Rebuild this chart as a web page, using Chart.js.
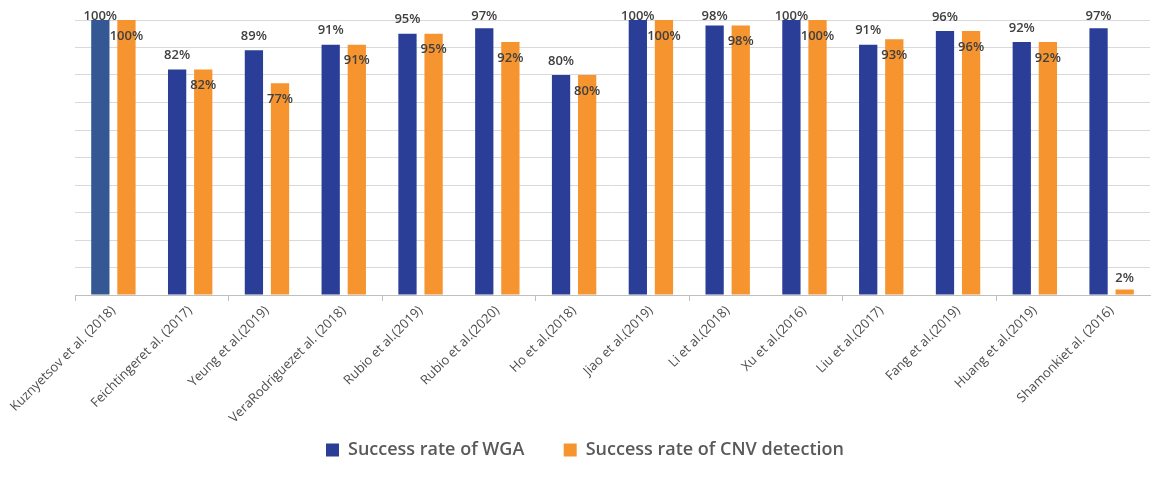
<!DOCTYPE html>
<html lang="en">
<head>
  <meta charset="UTF-8" />
  <title>Success rate of WGA and CNV detection</title>
  <script src="https://cdn.jsdelivr.net/npm/chart.js"></script>
  <style>
    html, body { margin: 0; padding: 0; background: #fff; }
    .wrap { width: 1159px; height: 482px; position: relative; }
  </style>
</head>
<body>
  <div class="wrap"><canvas id="chart"></canvas></div>
  <script>
    const studies = [
      'Kuznyetsov et al. (2018)', 'Feichtingeret al. (2017)', 'Yeung et al.(2019)',
      'VeraRodriguezet al. (2018)', 'Rubio et al.(2019)', 'Rubio et al.(2020)',
      'Ho et al.(2018)', 'Jiao et al.(2019)', 'Li et al.(2018)', 'Xu et al.(2016)',
      'Liu et al.(2017)', 'Fang et al.(2019)', 'Huang et al.(2019)', 'Shamonkiet al. (2016)'
    ];
    const wgaRate = [100, 82, 89, 91, 95, 97, 80, 100, 98, 100, 91, 96, 92, 97];
    const cnvRate = [100, 82, 77, 91, 95, 92, 80, 100, 98, 100, 93, 96, 92, 2];

    const blue = '#2b3e97';
    const firstBlue = '#355895';
    const orange = '#f6942f';

    // value labels: blue above the bar (kept inside the top), orange just inside the top
    const valueLabels = {
      id: 'valueLabels',
      afterDatasetsDraw(chart) {
        const ctx = chart.ctx;
        ctx.save();
        ctx.font = '600 13px "Open Sans"';
        ctx.fillStyle = '#404040';
        ctx.textAlign = 'center';
        ctx.textBaseline = 'middle';
        chart.data.datasets.forEach((ds, di) => {
          chart.getDatasetMeta(di).data.forEach((bar, i) => {
            const h = bar.base - bar.y;
            let y;
            if (di === 0) y = Math.max(bar.y - 14, 16);
            else if (h < 30) y = bar.y - 11;
            else y = bar.y + 16;
            ctx.fillText(ds.data[i] + '%', bar.x, y);
          });
        });
        ctx.restore();
      }
    };

    new Chart(document.getElementById('chart'), {
      type: 'bar',
      data: {
        labels: studies,
        datasets: [
          {
            label: 'Success rate of WGA',
            data: wgaRate,
            backgroundColor: wgaRate.map((v, i) => i === 0 ? firstBlue : blue),
            categoryPercentage: 0.68,
            barPercentage: 0.7
          },
          {
            label: 'Success rate of CNV detection',
            data: cnvRate,
            backgroundColor: orange,
            categoryPercentage: 0.68,
            barPercentage: 0.7
          }
        ]
      },
      options: {
        responsive: true,
        maintainAspectRatio: false,
        animation: false,
        layout: { padding: { top: 20, right: 9, bottom: 13, left: 20 } },
        plugins: {
          tooltip: { enabled: false },
          legend: {
            position: 'bottom',
            labels: {
              boxWidth: 13,
              boxHeight: 13,
              padding: 16,
              color: '#595959',
              font: { family: '"Open Sans"', size: 18, weight: '600' },
              generateLabels(chart) {
                // trailing spaces widen the gap between the two legend items
                return chart.data.datasets.map((ds, i) => ({
                  text: i === 0 ? ds.label + '     ' : ds.label,
                  fillStyle: i === 0 ? blue : orange,
                  strokeStyle: 'transparent',
                  lineWidth: 0,
                  fontColor: '#595959',
                  datasetIndex: i
                }));
              }
            }
          }
        },
        scales: {
          x: {
            grid: {
              display: true,
              drawOnChartArea: false,
              drawTicks: true,
              tickLength: 6,
              offset: true,
              color: ctx => ctx.index % 2 === 0 ? '#bfbfbf' : 'rgba(0,0,0,0)'
            },
            border: { display: true, color: '#bfbfbf' },
            ticks: {
              minRotation: 45,
              maxRotation: 45,
              autoSkip: false,
              color: '#4d4d4d',
              font: { family: '"Open Sans"', size: 13 },
              padding: 2
            },
            afterFit(scale) { scale.height = 130; }
          },
          y: {
            min: 0,
            max: 100,
            ticks: { display: false, stepSize: 10 },
            grid: { color: '#d9d9d9', drawTicks: false },
            border: { display: false },
            afterFit(scale) { scale.width = 55; }
          }
        }
      },
      plugins: [valueLabels]
    });
  </script>
</body>
</html>
